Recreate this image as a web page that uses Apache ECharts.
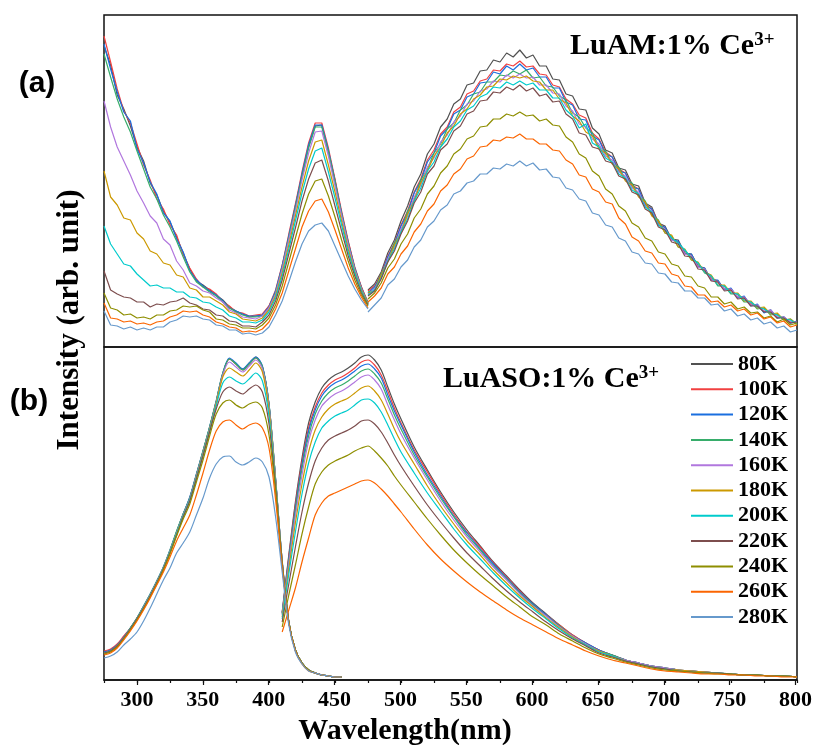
<!DOCTYPE html>
<html><head><meta charset="utf-8">
<script src="https://cdn.jsdelivr.net/npm/echarts@6/dist/echarts.min.js"></script>
<style>html,body{margin:0;padding:0;background:#fff}#c{width:815px;height:745px}</style>
</head><body><div id="c"></div>
<script>
const temps = ['80K','100K','120K','140K','160K','180K','200K','220K','240K','260K','280K'];
const colors = ['#515151','#F14040','#1A6FDF','#37AD6B','#B177DE','#CC9900','#00CBCC','#7D4E4E','#8E8E00','#FB6501','#6699CC'];
const xTickLabels = [300,350,400,450,500,550,600,650,700,750,800];

// ---- panel (a) LuAM: excitation x grid and values ----
const xExcA = [275,280,285,290,295,300,305,310,315,320,325,330,335,340,345,350,355,360,365,370,375,380,385,390,395,400,405,410,415,420,425,430,435,440,445,450,455,460,465,470,475];
const excA80  = [301,282,252,238,221,200,186,164,152,136,125,110,94,78,66,62,57,52,47,40,36,33,30,31,32,41,54,81,109,141,171,201,221,222,195,167,133,105,78,60,43];
const excA100 = [311,285,258,236,224,203,182,167,148,138,122,112,92,79,68,60,58,53,45,41,35,34,31,32,33,41,57,82,113,143,175,204,224,224,199,168,136,106,80,60,45];
const excA120 = [303,278,255,235,226,198,184,165,153,134,126,108,95,76,67,61,56,52,46,39,36,33,31,31,32,40,56,81,111,141,173,202,222,222,197,166,134,104,79,59,44];
const excA140 = [293,270,248,230,215,196,178,160,148,132,120,106,90,75,65,60,55,51,45,39,35,32,30,30,31,39,54,79,109,139,170,199,220,220,195,165,133,103,78,58,44];
const excA160 = [246,220,200,186,172,156,144,131,124,108,102,86,77,64,61,56,54,49,45,37,34,30,29,28,31,39,53,78,107,136,167,194,215,216,191,161,131,102,77,58,43];
const excA180 = [176,150,142,129,127,114,108,96,93,84,82,72,70,59,57,50,50,46,42,35,33,28,27,26,29,37,51,74,102,131,160,186,205,207,182,155,126,98,75,57,43];
const excA200 = [121,103,93,83,81,73,67,61,62,59,59,55,55,50,49,45,44,40,37,31,29,25,25,24,27,35,49,71,98,126,154,178,196,199,175,149,122,95,74,56,42];
const excA220 = [76,57,53,50,49,45,45,40,43,42,45,46,49,44,42,38,37,32,31,26,25,21,21,20,25,32,46,67,93,119,146,168,184,187,166,141,116,91,71,54,42];
const excA240 = [54,39,37,32,33,29,30,28,32,32,36,37,41,40,41,37,35,28,27,23,22,19,19,18,22,29,42,61,85,109,133,153,166,168,151,130,107,86,67,52,41];
const excA260 = [44,29,28,25,26,23,24,22,25,26,30,32,36,35,36,32,30,25,23,20,19,15,16,15,18,25,38,54,76,98,120,136,146,148,135,117,98,79,63,50,39];
const excA280 = [36,22,21,18,20,17,19,17,20,20,25,27,31,30,31,28,27,22,21,17,17,13,14,12,14,20,32,46,65,85,103,116,122,124,116,101,86,71,58,47,38];

// ---- panel (a) LuAM: emission ----
const xEmA = [475,480,485,490,495,500,505,510,515,520,525,530,535,540,545,550,555,560,565,570,575,580,585,590,595,600,605,610,615,620,625,630,635,640,645,650,655,660,665,670,675,680,685,690,695,700,705,710,715,720,725,730,735,740,745,750,755,760,765,770,775,780,785,790,795,800];
const emA80  = [57,63,75,94,107,126,141,160,173,193,203,220,228,243,248,262,264,276,277,287,285,294,290,297,289,292,281,281,268,267,253,251,238,237,219,213,197,194,179,177,163,161,144,140,124,121,108,107,94,93,81,79,67,66,58,58,50,50,42,42,35,37,29,30,24,25];
const emA100 = [56,61,73,91,104,122,136,155,168,187,197,213,220,235,240,253,256,266,268,277,276,283,281,286,280,281,273,272,262,260,248,243,232,229,214,208,195,190,178,174,162,158,143,138,124,119,108,105,94,92,81,78,69,66,58,57,50,49,43,41,36,35,30,29,25,25];
const emA120 = [54,60,72,90,103,121,134,154,166,185,194,211,218,233,237,250,253,264,265,275,273,281,277,283,277,279,270,270,259,259,245,242,228,227,211,207,193,190,176,174,160,158,142,138,122,120,107,106,93,93,80,79,67,67,57,59,49,51,41,43,34,37,29,30,24,26];
const emA140 = [55,57,73,86,104,115,136,147,167,178,194,203,218,224,237,242,253,255,265,265,272,271,276,273,277,269,270,261,260,251,247,234,230,219,214,200,196,184,180,168,164,152,146,132,127,114,111,100,97,87,84,74,71,61,61,53,53,45,45,38,39,32,33,27,28,23];
const emA160 = [53,58,70,88,100,118,131,150,162,180,189,205,212,225,231,243,246,256,258,266,265,272,269,273,269,270,262,262,254,253,241,236,223,220,208,203,191,187,175,171,159,155,141,136,122,118,107,104,93,91,80,78,67,65,58,58,50,50,42,42,36,37,30,30,25,25];
const emA180 = [54,56,72,85,102,114,133,146,164,176,191,200,214,221,233,238,248,252,260,261,268,267,271,269,271,266,265,257,257,248,244,231,226,215,211,198,194,183,178,166,162,150,145,131,126,114,112,100,98,87,85,75,72,62,62,54,54,46,46,39,40,33,34,27,28,22];
const emA200 = [52,57,69,86,98,115,128,146,159,176,185,200,208,220,226,237,241,250,253,260,259,265,262,266,262,264,257,257,249,249,237,231,219,223,204,200,189,185,173,169,157,153,140,135,122,117,109,104,97,89,84,75,71,62,61,54,53,47,45,40,38,34,32,28,27,23];
const emA220 = [51,56,68,85,96,113,126,144,155,173,181,197,203,216,221,233,236,246,247,255,254,260,257,262,256,259,251,253,245,246,233,228,214,212,200,198,186,184,171,168,155,152,138,134,120,117,105,103,91,90,78,77,66,65,56,57,48,49,41,41,35,35,29,29,24,25];
const emA240 = [48,54,64,79,88,103,113,129,138,153,161,174,181,193,198,208,211,220,221,228,228,233,231,235,231,232,226,228,222,221,210,205,193,189,176,171,158,153,141,136,124,120,109,106,95,93,83,81,71,70,61,59,50,50,43,45,38,40,34,35,29,31,25,28,22,24];
const emA260 = [45,51,59,73,80,93,101,115,123,136,143,156,162,173,178,188,191,200,201,207,206,210,209,213,208,208,203,203,197,196,187,183,172,170,158,155,145,143,129,123,110,106,96,94,84,83,73,71,61,60,52,52,45,46,40,42,36,38,32,34,28,30,24,26,20,22];
const emA280 = [35,42,49,62,68,80,87,100,107,120,126,137,142,153,156,164,166,173,173,179,178,183,181,186,181,184,177,178,170,169,159,157,148,146,134,132,122,120,109,106,95,93,84,83,74,73,65,64,56,56,49,49,42,43,36,38,31,33,27,29,23,25,19,21,15,17];

// ---- panel (b) LuASO: excitation ----
const xExcB = [275,280,285,290,295,300,305,310,315,320,325,330,335,340,345,350,355,360,365,370,375,380,385,390,395,400,405,410,415,420,425,430,435,440,445,450,455];
const excB80  = [28,30,35,43,52,62,73,85,98,112,129,148,166,182,205,228,252,278,306,321,316,311,317,323,313,275,200,118,58,30,17,10,7,5,4,3,3];
const excB100 = [29,31,36,44,52,62,73,85,98,112,129,147,165,182,205,228,252,278,306,321,316,310,316,322,313,275,200,118,58,30,17,10,7,5,4,3,3];
const excB120 = [28,30,35,43,52,62,74,86,99,113,130,148,166,183,206,229,253,279,307,322,317,311,317,323,314,276,201,119,58,30,17,10,7,5,4,3,3];
const excB140 = [27,29,34,42,52,62,74,86,99,113,130,149,166,182,205,229,253,279,307,321,316,310,316,322,313,276,201,119,58,30,17,10,7,5,4,3,3];
const excB160 = [27,29,34,42,51,61,73,85,98,112,129,147,165,181,204,227,251,277,305,318,313,308,314,320,311,273,200,118,58,30,17,10,7,5,4,3,3];
const excB180 = [27,29,34,42,51,61,72,84,97,111,128,146,164,180,203,226,250,276,303,312,308,304,310,317,308,270,198,117,58,30,17,10,7,5,4,3,3];
const excB200 = [27,29,34,42,51,61,72,84,97,111,128,146,164,180,202,225,249,274,297,303,299,296,301,307,299,264,195,116,58,30,17,10,7,5,4,3,3];
const excB220 = [27,29,34,42,51,61,72,84,97,111,127,145,163,179,201,224,248,271,288,293,289,286,291,295,288,256,192,116,58,30,17,10,7,5,4,3,3];
const excB240 = [26,28,33,41,50,60,71,83,96,110,126,144,161,176,198,220,244,266,277,280,275,272,276,278,272,245,188,115,58,30,17,10,7,5,4,3,3];
const excB260 = [25,27,32,40,49,59,70,82,95,108,123,139,152,165,185,207,230,249,258,260,255,251,255,257,252,232,180,113,57,29,16,9,7,5,4,3,3];
const excB280 = [22,24,28,35,41,48,59,72,86,100,112,127,137,148,165,182,202,216,223,224,218,215,218,222,218,203,163,108,55,28,16,9,7,5,4,3,3];

// ---- panel (b) LuASO: emission (80K..260K) ----
const xEmB = [410,415,420,425,430,435,440,445,450,455,460,465,470,475,480,485,490,495,500,510,520,530,540,550,560,570,580,590,600,610,620,630,640,650,660,670,680,690,700,710,720,730,740,750,760,770,780,790,800];
const emB80  = [68,125,178,222,257,278,292,300,305,308,312,317,323,325,320,310,293,276,261,233,210,188,168,150,134,118,104,90,77,66,55,45,37,30,25,20,17,14,12,10,9,8,7,6,5,5,4,4,3];
const emB100 = [67,123,175,218,252,273,287,295,300,303,307,312,318,320,315,305,289,272,257,230,208,186,166,148,133,117,103,89,76,65,55,45,37,30,25,20,17,14,12,10,9,8,7,6,5,5,4,4,3];
const emB120 = [67,121,172,215,249,270,284,292,297,300,304,309,314,316,311,302,285,269,255,228,205,184,164,147,131,116,102,88,76,65,54,44,37,30,25,20,17,14,12,10,9,8,7,6,5,5,4,4,3];
const emB140 = [66,119,169,211,244,266,279,287,292,295,299,304,309,311,306,297,281,265,251,225,203,182,163,145,130,114,101,87,75,64,54,44,36,29,25,20,17,14,12,10,9,8,7,6,5,5,4,4,3];
const emB160 = [65,116,164,205,239,260,274,281,286,289,293,298,303,305,300,291,275,260,246,222,200,179,160,143,128,113,100,86,74,64,53,44,36,29,24,20,17,14,12,10,9,8,7,6,5,5,4,4,3];
const emB180 = [63,111,157,196,228,250,263,271,276,279,282,287,292,294,289,280,266,251,238,216,194,174,156,139,125,110,97,84,73,62,52,43,35,29,24,19,16,13,11,10,9,8,7,6,5,5,4,4,3];
const emB200 = [61,106,148,186,217,238,252,259,264,267,270,275,280,281,277,268,255,241,228,207,187,169,151,135,121,107,94,82,71,61,51,42,35,28,24,19,16,13,11,9,8,7,7,6,5,5,4,4,3];
const emB220 = [58,96,133,168,197,219,232,240,244,247,250,254,259,260,256,248,237,225,214,194,175,158,142,127,114,101,89,78,68,58,49,41,34,27,23,19,16,13,11,9,8,7,7,6,5,5,4,4,3];
const emB240 = [53,85,115,146,173,196,208,215,219,222,225,229,232,234,229,222,214,204,195,178,161,145,130,117,105,94,83,73,63,55,46,39,32,26,22,18,15,12,10,9,8,7,6,6,5,5,4,4,3];
const emB260 = [48,70,92,118,142,165,177,184,187,190,193,196,199,200,197,191,184,176,168,151,135,121,109,98,88,79,70,62,55,48,41,35,29,24,20,17,14,11,9,8,7,6,6,5,5,4,4,3,3];

const excA = [excA80,excA100,excA120,excA140,excA160,excA180,excA200,excA220,excA240,excA260,excA280];
const emA  = [emA80,emA100,emA120,emA140,emA160,emA180,emA200,emA220,emA240,emA260,emA280];
const excB = [excB80,excB100,excB120,excB140,excB160,excB180,excB200,excB220,excB240,excB260,excB280];
const emB  = [emB80,emB100,emB120,emB140,emB160,emB180,emB200,emB220,emB240,emB260];

const SERIF = '"Liberation Serif","Times New Roman",serif';

function mk(name, color, xs, ys, axis, smooth) {
  return {
    type: 'line', name: name, xAxisIndex: axis, yAxisIndex: axis,
    data: xs.map((x, i) => [x, ys[i]]),
    showSymbol: false, symbol: 'none', smooth: smooth, silent: true,
    lineStyle: { width: 1.2, color: color }, itemStyle: { color: color },
    animation: false
  };
}

const series = [];
temps.forEach((t, i) => {
  series.push(mk(t, colors[i], xExcA, excA[i], 0, false));
  series.push(mk(t, colors[i], xEmA, emA[i], 0, false));
});
temps.forEach((t, i) => {
  series.push(mk(t, colors[i], xExcB, excB[i], 1, 0.3));
  if (emB[i]) series.push(mk(t, colors[i], xEmB, emB[i], 1, 0.3));
});

const chart = echarts.init(document.getElementById('c'), null, { renderer: 'canvas' });
chart.setOption({
  animation: false,
  backgroundColor: '#fff',
  grid: [
    { left: 104, right: 18, top: 15, height: 332, show: true, borderColor: '#111', borderWidth: 1.5, backgroundColor: 'transparent' },
    { left: 104, right: 18, top: 347, height: 333, show: true, borderColor: '#111', borderWidth: 1.5, backgroundColor: 'transparent' },
    { left: 137, right: 18, top: 347, height: 333, show: false }
  ],
  xAxis: [
    { type: 'value', gridIndex: 0, min: 275, max: 800, show: false },
    { type: 'value', gridIndex: 1, min: 275, max: 800, interval: 25,
      axisLine: { show: true, lineStyle: { color: '#111', width: 1.5 } },
      axisTick: { show: true, length: 3, inside: false, lineStyle: { color: '#111', width: 1.2 } },
      axisLabel: { show: false }, splitLine: { show: false } },
    { type: 'value', gridIndex: 2, min: xTickLabels[0], max: xTickLabels[xTickLabels.length - 1], interval: 50,
      axisLine: { show: false },
      axisTick: { show: true, length: 5, inside: false, lineStyle: { color: '#111', width: 1.2 } },
      axisLabel: { show: true, margin: 9, fontFamily: SERIF, fontWeight: 'bold', fontSize: 22, color: '#000' },
      splitLine: { show: false } }
  ],
  yAxis: [
    { type: 'value', gridIndex: 0, min: 0, max: 332, show: false },
    { type: 'value', gridIndex: 1, min: 0, max: 333, show: false },
    { type: 'value', gridIndex: 2, min: 0, max: 1, show: false }
  ],
  legend: {
    data: temps, orient: 'vertical', left: 691, top: 353, padding: 0,
    itemWidth: 42, itemHeight: 2, itemGap: 3.3, icon: 'rect', selectedMode: false,
    textStyle: { fontFamily: SERIF, fontWeight: 'bold', fontSize: 22, lineHeight: 22, color: '#000', padding: [0,0,0,0] }
  },
  graphic: [
    { type: 'text', x: 37, y: 84, silent: true,
      style: { text: '(a)', font: 'bold 30px "Liberation Sans", Arial, sans-serif', fill: '#000', align: 'center', verticalAlign: 'middle' } },
    { type: 'text', x: 29, y: 402, silent: true,
      style: { text: '(b)', font: 'bold 30px "Liberation Sans", Arial, sans-serif', fill: '#000', align: 'center', verticalAlign: 'middle' } },
    { type: 'text', x: 570, y: 31, silent: true,
      style: { text: '{m|LuAM:1% Ce}{s|3+}', align: 'left', verticalAlign: 'top',
        rich: { m: { fontFamily: SERIF, fontWeight: 'bold', fontSize: 30, lineHeight: 31, fill: '#000' },
                s: { fontFamily: SERIF, fontWeight: 'bold', fontSize: 19, lineHeight: 19, verticalAlign: 'top', fill: '#000' } } } },
    { type: 'text', x: 443, y: 364, silent: true,
      style: { text: '{m|LuASO:1% Ce}{s|3+}', align: 'left', verticalAlign: 'top',
        rich: { m: { fontFamily: SERIF, fontWeight: 'bold', fontSize: 30, lineHeight: 31, fill: '#000' },
                s: { fontFamily: SERIF, fontWeight: 'bold', fontSize: 19, lineHeight: 19, verticalAlign: 'top', fill: '#000' } } } },
    { type: 'text', x: 405, y: 731, silent: true,
      style: { text: 'Wavelength(nm)', font: 'bold 30px ' + SERIF, fill: '#000', align: 'center', verticalAlign: 'middle' } },
    { type: 'text', x: 70, y: 320, rotation: Math.PI / 2, silent: true,
      style: { text: 'Intensity (arb. unit)', font: 'bold 31px ' + SERIF, fill: '#000', align: 'center', verticalAlign: 'middle' } }
  ],
  series: series
});
</script>
</body></html>
